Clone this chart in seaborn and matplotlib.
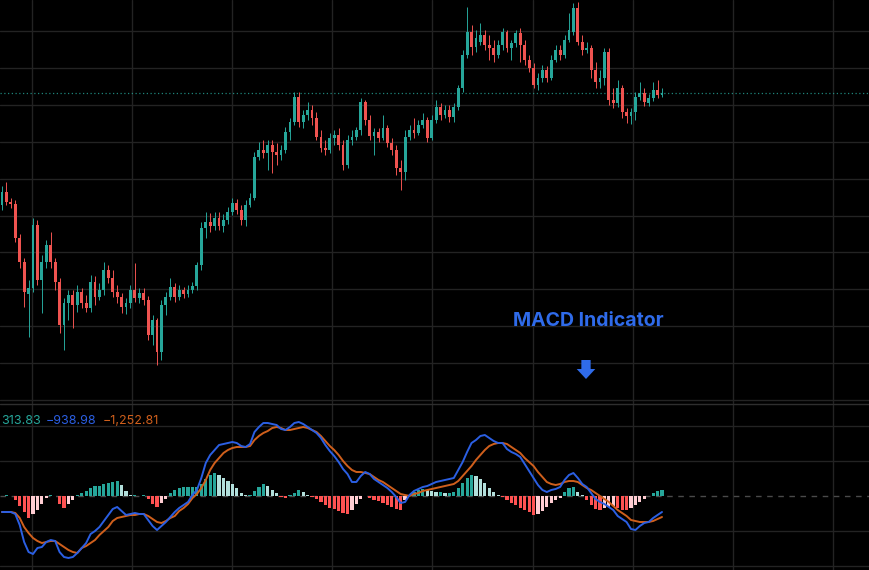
import numpy as np
import pandas as pd
import matplotlib
matplotlib.use('Agg')
import matplotlib.pyplot as plt
from matplotlib.patches import FancyArrow
import seaborn as sns

# candle prices (one candle per index)
open_px = [195, 208, 198, 196, 162, 138, 106, 112, 175, 120,
           138, 155, 138, 118, 75, 97, 105, 95, 108, 97,
           92, 118, 103, 110, 130, 122, 108, 103, 93, 97,
           110, 102, 107, 100, 65, 80, 48, 95, 103, 113,
           103, 110, 106, 110, 114, 135, 172, 178, 174, 182,
           174, 180, 188, 197, 190, 180, 195, 202, 243, 250,
           247, 255, 248, 245, 250, 268, 278, 303, 278, 285,
           290, 282, 263, 252, 250, 262, 265, 255, 235, 260,
           263, 270, 298, 280, 264, 268, 262, 272, 257, 250,
           232, 228, 263, 270, 267, 275, 280, 262, 280, 293,
           285, 290, 283, 293, 312, 345, 368, 353, 358, 365,
           355, 352, 345, 355, 368, 352, 357, 367, 355, 340,
           332, 315, 322, 330, 322, 340, 350, 345, 360, 368,
           392, 358, 350, 352, 330, 318, 322, 348, 300, 297,
           312, 288, 284, 288, 303, 307, 297, 302, 310, 305]
close_px = [208, 198, 196, 162, 138, 108, 112, 175, 120, 138,
            155, 138, 118, 75, 97, 105, 95, 108, 97, 92,
            118, 103, 110, 130, 122, 108, 103, 93, 97, 110,
            102, 107, 100, 65, 80, 48, 95, 103, 113, 103,
            110, 106, 110, 114, 135, 172, 178, 174, 182, 174,
            180, 188, 197, 190, 180, 195, 202, 243, 250, 247,
            255, 248, 245, 250, 268, 278, 303, 278, 285, 290,
            282, 263, 252, 250, 262, 265, 255, 235, 260, 263,
            270, 298, 280, 264, 268, 262, 272, 257, 250, 232,
            228, 263, 270, 267, 275, 280, 262, 280, 293, 285,
            290, 283, 293, 312, 345, 368, 353, 362, 365, 355,
            352, 345, 355, 368, 352, 357, 367, 355, 340, 332,
            315, 322, 330, 322, 340, 350, 345, 360, 370, 392,
            358, 350, 352, 330, 318, 322, 348, 300, 297, 312,
            288, 284, 288, 303, 307, 298, 302, 310, 305, 307]
high_px = [214, 218, 202, 200, 166, 142, 120, 182, 180, 145,
           160, 168, 142, 122, 102, 110, 110, 115, 112, 105,
           125, 124, 117, 138, 135, 130, 115, 107, 102, 115,
           137, 112, 112, 104, 85, 82, 100, 108, 122, 117,
           115, 113, 115, 118, 138, 178, 188, 187, 188, 188,
           186, 193, 202, 201, 195, 200, 207, 248, 258, 260,
           260, 260, 257, 255, 273, 282, 308, 308, 290, 298,
           295, 288, 270, 260, 267, 270, 272, 260, 265, 270,
           273, 302, 300, 285, 272, 272, 285, 275, 262, 255,
           240, 270, 275, 282, 280, 287, 283, 285, 300, 297,
           295, 295, 297, 315, 350, 393, 375, 370, 377, 370,
           365, 360, 360, 372, 370, 360, 370, 372, 360, 345,
           337, 327, 335, 334, 345, 355, 355, 365, 387, 397,
           398, 365, 358, 355, 338, 330, 352, 352, 312, 320,
           315, 292, 292, 308, 318, 312, 306, 318, 320, 312]
low_px = [190, 195, 192, 158, 132, 93, 63, 108, 115, 87,
          132, 132, 110, 67, 50, 80, 72, 88, 92, 88,
          88, 95, 100, 105, 117, 103, 97, 87, 86, 92,
          98, 97, 95, 60, 55, 35, 40, 85, 100, 98,
          100, 102, 103, 107, 110, 130, 162, 168, 170, 170,
          168, 176, 185, 186, 175, 174, 193, 200, 240, 242,
          230, 227, 235, 240, 247, 260, 275, 273, 272, 280,
          275, 260, 248, 245, 247, 255, 250, 230, 232, 255,
          260, 265, 275, 260, 245, 258, 260, 253, 245, 225,
          210, 220, 260, 262, 265, 272, 258, 260, 277, 280,
          282, 278, 278, 290, 308, 342, 345, 348, 355, 350,
          340, 338, 342, 350, 348, 340, 353, 338, 335, 328,
          312, 310, 318, 318, 320, 338, 340, 342, 358, 365,
          355, 345, 347, 322, 312, 312, 315, 295, 292, 293,
          282, 277, 276, 280, 300, 294, 294, 299, 302, 303]

# MACD pane
macd_line = [-16, -16, -16, -18, -29, -46, -56, -58, -52, -51,
             -46, -44, -45, -56, -61, -62, -61, -57, -52, -47,
             -38, -35, -31, -25, -19, -13, -11, -15, -19, -18,
             -17, -18, -18, -24, -30, -34, -30, -26, -21, -16,
             -12, -9, -6, 1, 6, 18, 33, 41, 46, 51,
             52, 53, 54, 53, 50, 49, 52, 64, 69, 73,
             73, 72, 71, 67, 66, 69, 73, 74, 72, 69,
             66, 63, 58, 51, 45, 40, 34, 27, 22, 14,
             14, 20, 24, 22, 17, 14, 11, 8, 4, -1,
             -7, -6, 1, 5, 7, 9, 10, 12, 14, 15,
             16, 17, 18, 26, 34, 44, 53, 56, 60, 61,
             58, 55, 53, 53, 47, 44, 42, 39, 32, 25,
             18, 11, 6, 4, 6, 7, 9, 16, 21, 23,
             18, 12, 9, 3, -3, -6, -8, -11, -14, -20,
             -23, -26, -33, -34, -30, -27, -26, -22, -19, -16]
signal_line = [-16, -16, -16, -17, -22, -31, -37, -42, -45, -47,
               -46, -45, -45, -48, -51, -54, -56, -57, -52, -50,
               -47, -44, -39, -35, -31, -25, -22, -21, -20, -19,
               -19, -18, -18, -20, -23, -26, -27, -25, -22, -20,
               -15, -12, -8, -2, 2, 8, 16, 26, 33, 38,
               43, 46, 48, 49, 49, 49, 50, 56, 60, 63,
               65, 68, 69, 68, 66, 66, 67, 68, 69, 68,
               66, 64, 60, 55, 50, 46, 41, 35, 30, 26,
               24, 24, 23, 22, 19, 16, 14, 11, 8, 5,
               2, 1, 0, 2, 3, 5, 6, 7, 8, 9,
               10, 11, 12, 15, 20, 25, 30, 36, 41, 46,
               50, 52, 53, 53, 52, 49, 46, 43, 38, 34,
               30, 24, 19, 14, 12, 11, 12, 14, 15, 15,
               14, 11, 8, 6, 3, 0, -3, -6, -10, -14,
               -17, -20, -24, -25, -26, -26, -26, -25, -23, -21]
hist_vals = [0, 1, 0, -4, -10, -16, -22, -18, -14, -8,
             -2, 1, 0, -8, -12, -8, -4, 1, 3, 5,
             8, 10, 10, 12, 13, 14, 15, 11, 5, 1,
             1, 0, 1, -3, -8, -11, -7, -3, 3, 6,
             8, 9, 9, 9, 9, 12, 17, 21, 23, 21,
             18, 15, 12, 8, 3, 1, 1, 5, 9, 12,
             10, 6, 3, -1, -2, 1, 3, 6, 4, 1,
             -1, -3, -6, -9, -12, -13, -15, -17, -18, -14,
             -8, -3, 0, -2, -4, -5, -7, -9, -11, -13,
             -14, -4, 1, 4, 6, 7, 6, 5, 4, 4,
             3, 3, 4, 8, 13, 18, 21, 20, 17, 13,
             8, 4, 1, -1, -4, -7, -9, -12, -14, -16,
             -19, -18, -15, -11, -7, -4, -2, 4, 8, 9,
             4, 1, -4, -9, -13, -14, -12, -11, -10, -12,
             -14, -14, -12, -9, -6, -3, 0, 3, 5, 6]
legend_vals = ['313.83', '\u2212938.98', '\u22121,252.81']

UP = '#26a69a'
DOWN = '#ef5350'
BLUE = '#2b5fe3'
ORANGE = '#cf5f1c'
GRID = '#232323'
LABEL_BLUE = '#2f6bea'

sns.set_theme(style='dark', rc={'axes.facecolor': 'black', 'figure.facecolor': 'black'})
plt.rcParams['font.family'] = ['Inter', 'DejaVu Sans']

n = len(close_px)
idx = np.arange(n)
px_per = 660 / 149
x_left = -2 / px_per
x_right = x_left + 870 / px_per
vgrid = np.arange(6.77, x_right, 22.6)

fig = plt.figure(figsize=(8.7, 5.7), dpi=100)
ax1 = fig.add_axes([0, 167 / 570, 1, 403 / 570])
ax2 = fig.add_axes([0, 0, 1, 167 / 570], sharex=ax1)

for ax in (ax1, ax2):
    ax.set_facecolor('black')
    for s in ax.spines.values():
        s.set_visible(False)
    ax.set_axisbelow(True)
    ax.set_xticks(vgrid)
    ax.grid(True, color=GRID, lw=1)
    ax.tick_params(length=0, labelbottom=False, labelleft=False)
ax1.set_xlim(x_left, x_right)

# --- candles ---
o = np.array(open_px, float)
c = np.array(close_px, float)
cols = np.where(c >= o, UP, DOWN)
body = c - o
body = np.where(np.abs(body) < 1.5, np.where(body >= 0, 1.5, -1.5), body)
ax1.vlines(idx, low_px, high_px, colors=cols, lw=0.7, zorder=2)
ax1.bar(idx, body, bottom=o, width=0.64, color=cols, linewidth=0, zorder=3)
ax1.axhline(close_px[-1], color=UP, lw=0.9, ls=(0, (1, 2)), alpha=0.8, zorder=1)
ax1.set_ylim(-3, 400)
ax1.set_yticks(np.arange(0, 400, 36.9))

ax1.text((588 - 2) / px_per, 400 - 321, 'MACD Indicator', color=LABEL_BLUE,
         fontsize=14, fontweight='bold', ha='center', va='center')
ax1.add_patch(FancyArrow((586 - 2) / px_per, 400 - 360, 0, -19, width=2.1,
                         head_width=4.2, head_length=10, length_includes_head=True,
                         color=LABEL_BLUE, lw=0))

# --- MACD pane ---
hist_cols = []
prev = 0
for h in hist_vals:
    if h >= 0:
        hist_cols.append('#26a69a' if h >= prev else '#b2dfdb')
    else:
        hist_cols.append('#ff5252' if h <= prev else '#ffcdd2')
    prev = h
ax2.axhline(0, color='#4a4a4a', lw=1, ls=(0, (4, 4)), zorder=1)
ax2.bar(idx, hist_vals, width=0.72, color=hist_cols, linewidth=0, zorder=2)

df = pd.DataFrame({'idx': idx, 'macd': macd_line, 'signal': signal_line})
sns.lineplot(data=df, x='idx', y='signal', ax=ax2, color=ORANGE, lw=1.4, zorder=3, legend=False)
sns.lineplot(data=df, x='idx', y='macd', ax=ax2, color=BLUE, lw=1.4, zorder=4, legend=False)
ax2.set_xlabel('')
ax2.set_ylabel('')
ax2.set_ylim(-74, 93)
ax2.set_yticks([-70, -35, 35, 70])
ax2.axhline(92, color='#2e2e2e', lw=1)

yl = 1 - 421.5 / 570
fig.text(1 / 870, yl, legend_vals[0], color=UP, fontsize=9, ha='left', va='center')
fig.text(46 / 870, yl, legend_vals[1], color=BLUE, fontsize=9, ha='left', va='center')
fig.text(103 / 870, yl, legend_vals[2], color=ORANGE, fontsize=9, ha='left', va='center')

plt.savefig('out.png', dpi=100, facecolor='black')
plt.close()
